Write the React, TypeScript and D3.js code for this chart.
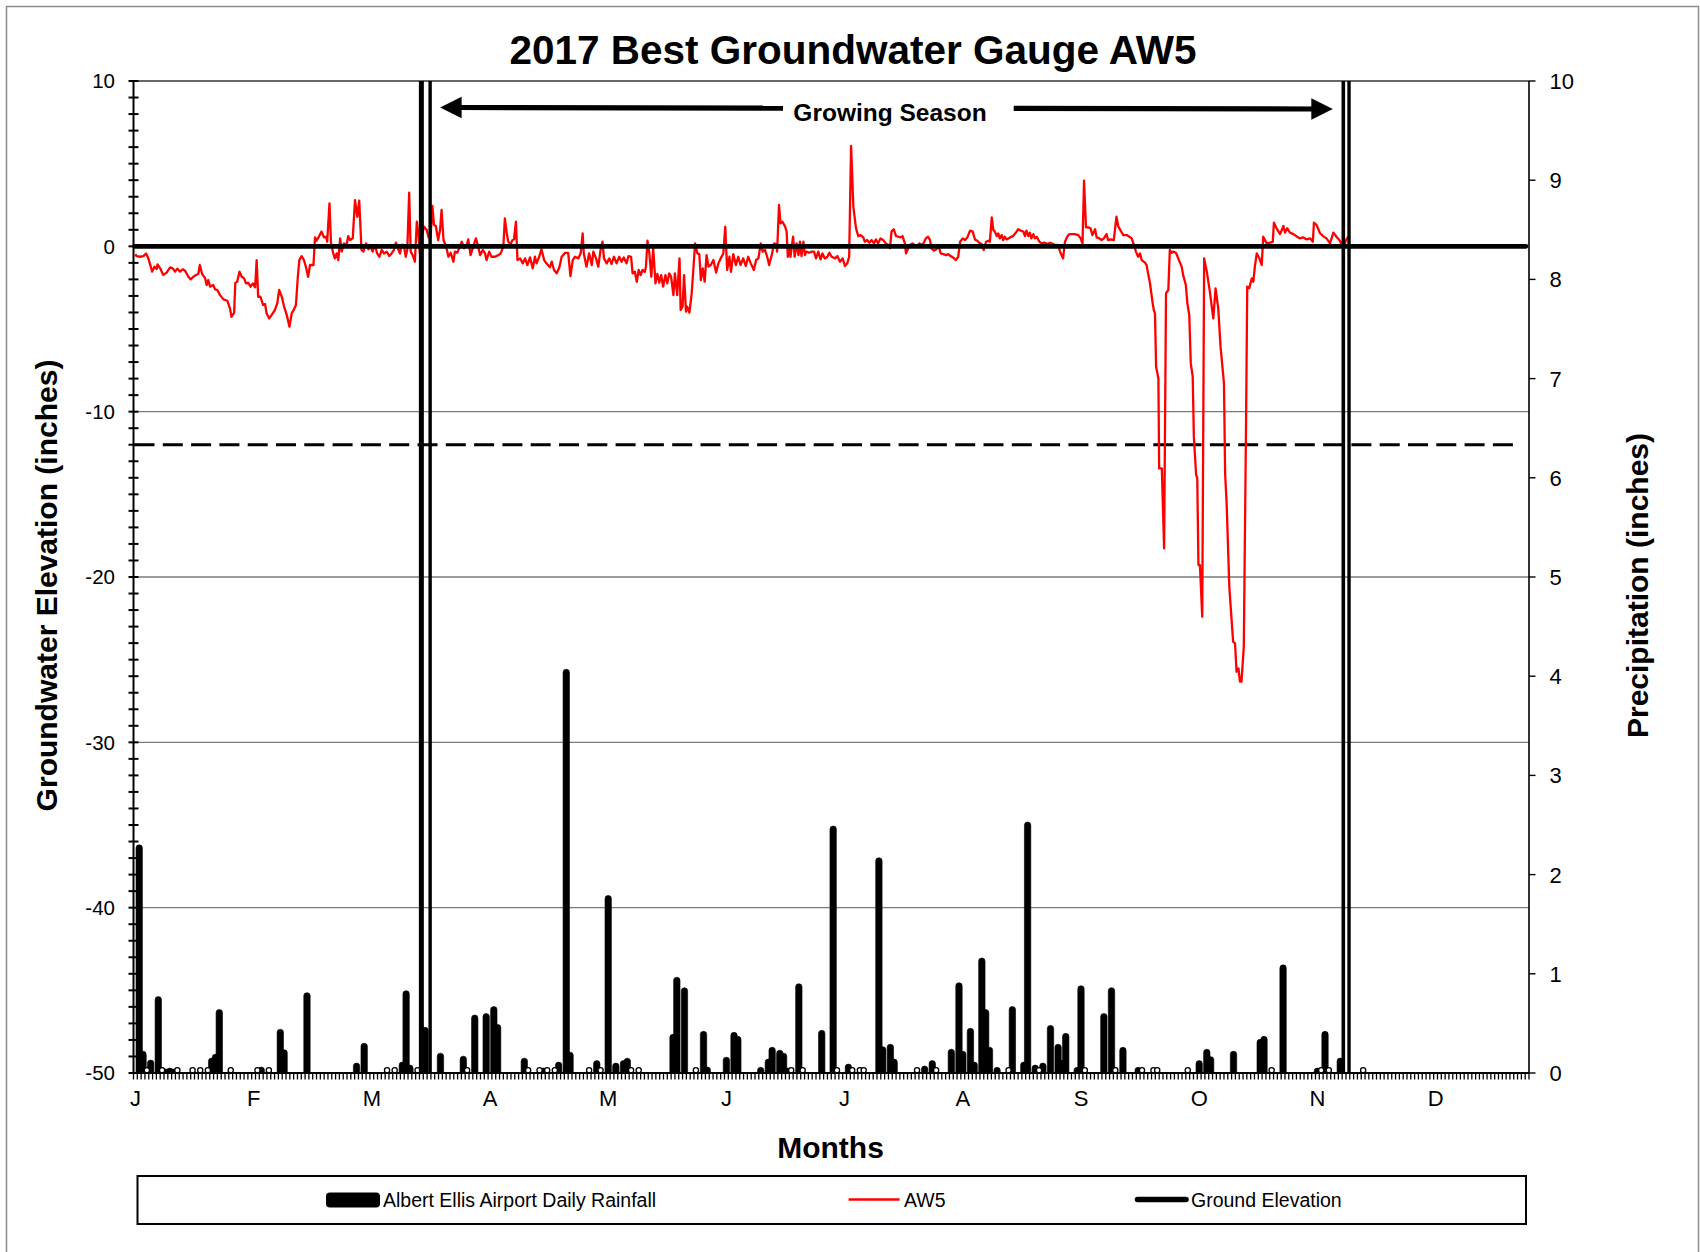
import React from 'react';
import * as d3 from 'd3';

const W = 1700;
const H = 1252;
const PLOT = { left: 133.5, right: 1529, top: 81, bottom: 1073 };
const FONT = "'Liberation Sans', Arial, Helvetica, sans-serif";

const chartTitle = '2017 Best Groundwater Gauge AW5';
const leftAxisTitle = 'Groundwater Elevation (inches)';
const rightAxisTitle = 'Precipitation (inches)';
const xAxisTitle = 'Months';
const seasonLabel = 'Growing Season';

const dayCount = 366;
const monthLabels = ['J', 'F', 'M', 'A', 'M', 'J', 'J', 'A', 'S', 'O', 'N', 'D'];
const monthLabelEvery = 31;
const leftDomain = [-50, 10];
const rightDomain = [0, 10];
const leftTickLabels = [10, 0, -10, -20, -30, -40, -50];
const rightTickLabels = [0, 1, 2, 3, 4, 5, 6, 7, 8, 9, 10];
const gridValues = [-10, -20, -30, -40];
const groundElevation = 0;
const rootZoneDepth = -12;
const seasonStartDays = [75.0, 77.3];
const seasonEndDays = [316.8, 318.3];

const legendItems = ['Albert Ellis Airport Daily Rainfall', 'AW5', 'Ground Elevation'];

// Albert Ellis Airport daily rainfall (day of year index, inches)
const rainDays = [1, 2, 4, 6, 8, 9, 10, 20, 21, 22, 33, 38, 39, 45, 58, 60, 70, 71, 72, 76, 80, 86, 89, 92, 94, 95, 102, 107, 111, 113, 114, 121, 124, 126, 128, 129, 141, 142, 144, 149, 150, 155, 157, 158, 164, 166, 167, 169, 170, 171, 174, 180, 183, 187, 195, 196, 198, 199, 207, 209, 214, 216, 217, 219, 220, 222, 223, 224, 226, 230, 233, 234, 236, 238, 240, 242, 243, 244, 247, 248, 254, 256, 259, 263, 279, 281, 282, 288, 295, 296, 301, 310, 312, 316];
const rainInches = [2.30, 0.22, 0.13, 0.77, 0.04, 0.05, 0.04, 0.15, 0.19, 0.64, 0.06, 0.44, 0.235, 0.81, 0.10, 0.30, 0.11, 0.83, 0.08, 0.46, 0.20, 0.17, 0.585, 0.60, 0.67, 0.49, 0.15, 0.05, 0.11, 4.07, 0.21, 0.125, 1.79, 0.10, 0.125, 0.15, 0.39, 0.965, 0.86, 0.42, 0.06, 0.16, 0.41, 0.37, 0.057, 0.14, 0.26, 0.23, 0.20, 0.05, 0.90, 0.43, 2.49, 0.09, 2.17, 0.265, 0.29, 0.14, 0.07, 0.125, 0.24, 0.91, 0.22, 0.45, 0.11, 1.16, 0.64, 0.26, 0.057, 0.67, 0.11, 2.53, 0.08, 0.10, 0.48, 0.29, 0.13, 0.40, 0.057, 0.88, 0.60, 0.86, 0.26, 0.057, 0.125, 0.24, 0.165, 0.22, 0.34, 0.37, 1.09, 0.05, 0.42, 0.15];
// days with trace rainfall
const traceDays = [3, 7, 11, 15, 17, 19, 25, 32, 35, 66, 68, 74, 87, 103, 106, 108, 110, 119, 122, 130, 132, 147, 172, 175, 184, 188, 190, 191, 205, 210, 229, 237, 249, 257, 264, 267, 268, 276, 298, 311, 313, 322];

// AW5 groundwater elevation readings (day of year, inches relative to ground)
const aw5Readings: [number, number][] = [
  [0, -0.47], [0.3, -0.59], [1.2, -0.63], [2.1, -0.59], [2.8, -0.43], [3.4, -0.73], [4.4, -1.53], [5.0, -1.23], [5.6, -1.37], [5.8, -1.09],
  [6.5, -1.33], [7.3, -1.73], [8.2, -1.59], [9.1, -1.27], [9.8, -1.33], [10.4, -1.53], [11.0, -1.35], [11.7, -1.53], [12.4, -1.39], [13.0, -1.47],
  [13.9, -1.84], [14.5, -2.0], [15.2, -1.84], [15.9, -1.73], [16.5, -1.67], [16.9, -1.13], [17.5, -1.67], [18.3, -1.94], [18.7, -2.34], [19.1, -2.04],
  [19.6, -2.44], [20.4, -2.34], [20.9, -2.6], [21.5, -2.64], [22.2, -2.95], [23.1, -3.21], [24.1, -3.29], [24.8, -3.75], [25.2, -4.26], [25.9, -4.01],
  [26.2, -2.2], [26.7, -2.14], [27.3, -1.53], [27.9, -1.84], [28.5, -1.94], [29.0, -2.24], [29.6, -2.2], [30.2, -2.44], [30.8, -2.24], [31.4, -2.48],
  [31.8, -0.83], [32.2, -3.05], [32.8, -3.05], [33.5, -3.55], [34.0, -3.49], [34.4, -4.05], [35.1, -4.36], [35.7, -4.16], [36.6, -3.85], [37.2, -3.45],
  [37.7, -2.64], [38.4, -3.05], [39.0, -3.65], [39.7, -4.16], [40.4, -4.86], [41.0, -4.05], [41.6, -3.81], [42.1, -3.55], [42.6, -1.84], [43.0, -0.83],
  [43.6, -0.59], [44.2, -0.83], [44.7, -1.23], [45.3, -1.84], [45.8, -1.13], [46.7, -1.13], [47.1, 0.54], [47.5, 0.34], [48.2, 0.62], [48.8, 0.89],
  [49.5, 0.54], [50.0, 0.58], [50.3, 0.28], [50.9, 2.6], [51.3, 0.18], [51.9, -0.43], [52.3, -0.73], [52.8, -0.43], [53.2, -0.83], [53.7, 0.48],
  [54.1, -0.32], [54.7, 0.18], [55.4, 0.08], [55.8, 0.62], [56.3, 0.38], [57.0, 0.48], [57.6, 2.8], [58.2, 1.79], [58.7, 2.76], [59.3, -0.22],
  [59.8, -0.32], [60.5, 0.18], [61.1, -0.18], [61.7, -0.02], [62.2, -0.32], [62.8, 0.08], [63.4, -0.43], [64.0, -0.63], [64.6, -0.22], [65.2, -0.43],
  [65.9, -0.32], [66.6, -0.59], [67.2, -0.43], [67.8, -0.22], [68.3, 0.22], [69.0, -0.22], [69.4, -0.43], [69.8, 0.08], [70.4, 0.08], [70.9, -0.63],
  [71.3, -0.22], [71.8, 3.24], [72.2, -0.32], [72.7, -0.53], [73.3, -0.93], [73.8, 1.49], [74.2, 0.78], [74.6, -0.43], [75.1, 0.68], [75.7, 1.19],
  [76.4, 0.99], [76.9, 0.54], [77.4, 0.54], [77.9, 2.44], [78.3, 1.29], [78.8, 1.23], [79.4, 0.38], [79.9, 0.99], [80.3, 2.2], [80.8, 0.38],
  [81.5, -0.02], [82.1, -0.63], [82.7, -0.39], [83.4, -0.93], [83.8, -0.32], [84.4, -0.39], [85.1, -0.02], [85.6, 0.28], [86.2, -0.12], [86.9, 0.08],
  [87.3, 0.42], [87.9, -0.53], [88.6, -0.02], [89.3, 0.48], [89.9, -0.02], [90.4, -0.53], [91.1, -0.22], [91.7, -0.43], [92.1, -0.83], [92.8, -0.32],
  [93.4, -0.63], [94.3, -0.63], [95.2, -0.53], [95.8, -0.43], [96.5, -0.02], [96.9, 1.69], [97.4, 0.78], [97.8, 0.28], [98.4, 0.14], [98.9, 0.38],
  [99.3, 0.42], [99.8, 1.49], [100.2, -0.83], [100.9, -0.73], [101.6, -1.03], [102.2, -0.73], [102.8, -1.13], [103.5, -0.67], [104.2, -1.33], [104.8, -0.63],
  [105.2, -1.03], [105.9, -0.63], [106.5, -0.18], [107.2, -0.83], [107.8, -1.03], [108.7, -1.27], [109.2, -0.93], [109.8, -1.43], [110.5, -1.63], [111.2, -1.27],
  [111.8, -0.63], [112.7, -0.39], [113.5, -0.39], [114.1, -1.8], [114.7, -0.83], [115.3, -0.63], [116.2, -0.73], [116.8, -0.39], [117.3, 0.78], [117.6, -0.43],
  [118.3, -1.23], [119.0, -0.43], [119.7, -1.13], [120.1, -0.32], [120.8, -0.73], [121.4, -1.23], [122.0, -0.22], [122.5, 0.28], [122.9, -0.73], [123.6, -1.03],
  [124.3, -0.73], [124.9, -1.07], [125.5, -0.63], [126.2, -1.03], [126.9, -0.63], [127.5, -0.93], [128.1, -0.67], [128.8, -1.03], [129.3, -0.59], [130.0, -0.63],
  [130.4, -1.64], [131.0, -1.54], [131.5, -2.14], [132.0, -1.43], [132.5, -1.74], [133.0, -1.43], [133.6, -1.54], [133.9, -1.23], [134.3, 0.34], [134.8, -0.43],
  [135.3, -1.84], [135.8, -0.12], [136.4, -2.24], [136.9, -1.67], [137.4, -2.2], [137.9, -1.74], [138.4, -2.44], [139.0, -1.74], [139.5, -2.24], [140.0, -1.64],
  [140.5, -1.84], [141.1, -2.95], [141.5, -1.64], [142.1, -2.95], [142.7, -0.73], [143.0, -3.85], [143.5, -3.65], [143.9, -1.74], [144.4, -3.95], [144.7, -3.65],
  [145.3, -4.01], [145.9, -2.84], [146.8, 0.18], [147.4, -0.43], [147.9, -0.47], [148.3, -2.04], [148.8, -1.33], [149.3, -2.14], [149.8, -0.53], [150.3, -1.23],
  [150.9, -1.13], [151.6, -0.83], [152.3, -1.59], [152.9, -1.03], [153.5, -0.73], [154.2, -0.43], [154.7, 1.19], [155.2, -1.43], [155.8, -0.63], [156.2, -1.54],
  [156.8, -0.47], [157.5, -1.13], [158.1, -0.63], [158.7, -1.13], [159.4, -0.73], [160.1, -1.19], [160.7, -0.63], [161.4, -1.03], [162.2, -1.43], [162.8, -0.83],
  [163.4, -0.73], [164.0, 0.18], [164.5, -0.32], [165.1, -0.22], [165.7, -0.63], [166.2, -1.13], [166.9, -0.53], [167.5, 0.18], [168.0, 0.14], [168.3, -0.32],
  [168.8, 2.5], [169.2, 1.39], [169.7, 1.49], [170.4, 1.19], [170.8, 0.89], [171.1, -0.63], [171.5, 0.08], [171.8, -0.63], [172.2, 0.08], [172.5, 0.58],
  [172.9, -0.63], [173.4, 0.18], [173.9, -0.53], [174.3, 0.28], [174.7, -0.59], [175.2, 0.28], [175.6, -0.53], [176.0, -0.32], [176.7, -0.39], [177.4, -0.32],
  [178.0, -0.32], [178.5, -0.73], [179.1, -0.32], [179.7, -0.79], [180.2, -0.43], [180.8, -0.73], [181.5, -0.63], [182.0, -0.39], [182.6, -0.63], [183.5, -0.73],
  [184.1, -0.59], [184.8, -0.93], [185.5, -0.73], [186.1, -1.19], [186.7, -1.03], [187.2, -0.63], [187.7, 6.07], [188.3, 2.4], [189.0, 1.09], [189.6, 0.62],
  [190.2, 0.68], [190.9, 0.54], [191.3, 0.28], [191.9, 0.38], [192.5, 0.22], [193.1, 0.38], [193.7, 0.18], [194.2, 0.42], [194.8, 0.18], [195.4, 0.48],
  [196.1, 0.38], [196.8, 0.18], [197.5, 0.08], [197.9, -0.12], [198.3, 0.89], [198.9, 1.03], [199.5, 0.62], [200.1, 0.58], [200.7, 0.54], [201.2, 0.62],
  [201.8, 0.18], [202.1, -0.43], [202.7, -0.12], [203.1, 0.08], [203.8, 0.18], [204.4, 0.08], [205.1, -0.02], [205.6, 0.18], [206.2, 0.08], [206.8, 0.22],
  [207.3, 0.48], [207.9, 0.58], [208.4, 0.38], [208.8, -0.12], [209.4, -0.26], [210.1, -0.18], [210.6, 0.08], [211.2, -0.43], [211.9, -0.47], [212.6, -0.53],
  [213.2, -0.47], [213.8, -0.59], [214.5, -0.69], [215.2, -0.83], [215.8, -0.63], [216.3, 0.28], [217.0, 0.48], [217.6, 0.38], [218.2, 0.54], [218.9, 0.95],
  [219.6, 0.89], [220.2, 0.42], [220.8, 0.34], [221.3, 0.22], [221.9, 0.14], [222.5, -0.22], [223.1, 0.28], [223.7, 0.34], [224.1, 0.28], [224.6, 1.75],
  [225.0, 0.99], [225.4, 0.89], [225.9, 0.62], [226.3, 0.78], [226.7, 0.48], [227.2, 0.68], [227.6, 0.38], [228.0, 0.58], [228.5, 0.42], [229.4, 0.54],
  [230.2, 0.62], [230.9, 0.82], [231.5, 1.03], [232.2, 0.95], [232.9, 0.89], [233.3, 0.62], [233.7, 0.95], [234.2, 0.62], [234.6, 0.82], [235.0, 0.48],
  [235.5, 0.74], [235.9, 0.48], [236.4, 0.58], [237.1, 0.28], [237.7, 0.18], [238.5, 0.22], [239.1, 0.14], [239.9, 0.22], [240.7, 0.14], [241.4, 0.08],
  [242.0, 0.08], [242.5, -0.32], [243.3, -0.73], [243.8, 0.28], [244.4, 0.58], [244.9, 0.74], [245.5, 0.74], [246.4, 0.74], [247.3, 0.68], [247.9, 0.48],
  [248.4, 0.18], [248.8, 3.97], [249.3, 1.15], [249.9, 1.15], [250.5, 1.09], [251.0, 0.68], [251.7, 1.03], [252.1, 0.54], [252.8, 0.48], [253.4, 0.38],
  [254.0, 0.48], [254.7, 0.74], [255.1, 0.38], [255.8, 0.42], [256.6, 0.38], [257.3, 1.79], [257.8, 1.19], [258.4, 0.95], [259.1, 0.68], [260.0, 0.68],
  [260.7, 0.58], [261.3, 0.48], [261.9, 0.08], [262.4, -0.32], [263.0, -0.63], [263.5, -0.43], [263.9, -0.83], [264.8, -0.99], [265.2, -1.13], [265.6, -1.64],
  [266.1, -2.24], [266.8, -3.45], [267.1, -3.85], [267.4, -4.05], [267.7, -7.28], [268.3, -7.98], [268.5, -13.43], [269.2, -13.43], [269.8, -18.27], [270.3, -2.84],
  [270.9, -2.64], [271.3, -0.22], [271.8, -0.39], [272.2, -0.32], [272.9, -0.39], [273.5, -0.73], [274.4, -1.23], [274.8, -1.74], [275.5, -2.34], [275.9, -3.45],
  [276.4, -4.15], [276.8, -7.08], [277.3, -7.89], [277.6, -11.51], [278.2, -13.83], [278.5, -14.03], [278.8, -19.28], [279.2, -19.28], [279.8, -22.4], [280.3, -0.73],
  [281.0, -1.53], [281.8, -2.74], [282.3, -3.65], [282.7, -4.36], [283.3, -2.54], [284.0, -3.75], [284.6, -6.07], [285.5, -8.29], [285.8, -13.73], [286.2, -15.55],
  [286.9, -20.59], [287.2, -21.6], [287.9, -23.91], [288.4, -24.01], [288.8, -25.73], [289.3, -25.53], [289.7, -26.33], [290.1, -26.33], [290.7, -24.21], [291.3, -10.5],
  [291.6, -2.44], [292.1, -2.54], [292.8, -1.94], [293.2, -2.14], [293.6, -1.23], [294.1, -0.43], [294.8, -0.73], [295.4, -1.13], [295.8, 0.58], [296.7, 0.18],
  [297.6, 0.22], [298.3, 0.28], [298.6, 1.43], [299.3, 1.09], [300.2, 0.74], [301.1, 1.23], [301.5, 0.83], [302.1, 1.09], [302.8, 0.83], [303.7, 0.74],
  [304.7, 0.58], [305.4, 0.48], [306.3, 0.54], [307.2, 0.42], [308.1, 0.48], [308.8, 0.28], [309.1, 1.43], [309.8, 1.29], [310.7, 0.79], [311.5, 0.62],
  [312.4, 0.48], [313.3, 0.18], [314.2, 0.83], [315.0, 0.58], [315.9, 0.34], [316.8, -0.12], [317.5, 0.38], [318.1, 0.58],
];

export default function App() {
  const x = d3.scaleLinear().domain([0, dayCount]).range([PLOT.left, PLOT.right]);
  const cx = (d: number) => x(d + 0.5);
  const yL = d3.scaleLinear().domain(leftDomain).range([PLOT.bottom, PLOT.top]);
  const yR = d3.scaleLinear().domain(rightDomain).range([PLOT.bottom, PLOT.top]);

  const aw5Line = d3
    .line<[number, number]>()
    .x((d) => cx(d[0]))
    .y((d) => yL(d[1]))(aw5Readings) as string;

  const base = yR(0);
  const barHalf = 3.2;
  const barPath = (day: number, v: number) => {
    const xc = cx(day);
    const top = yR(v);
    const h = base - top;
    const r = Math.min(barHalf, h);
    return `M${xc - barHalf},${base}L${xc - barHalf},${top + r}A${barHalf},${r} 0 0 1 ${xc + barHalf},${top + r}L${xc + barHalf},${base}Z`;
  };

  const leftMinor = d3.range(leftDomain[0], leftDomain[1] + 1, 1);
  const dayTicks = d3.range(0, dayCount + 1, 1);
  const gY = yL(groundElevation);

  const arrowY1 = 107.5;
  const arrowY2 = 109;
  const leftTip = cx(seasonStartDays[1]) + 10;
  const rightTip = cx(seasonEndDays[0]) - 10.5;
  const labelX = 890;

  return (
    <svg
      width={W}
      height={H}
      viewBox={`0 0 ${W} ${H}`}
      style={{ position: 'absolute', left: 0, top: 0, background: '#fff' }}
      fontFamily={FONT}
    >
      <rect x={0} y={0} width={W} height={H} fill="#fff" />
      <rect x={6.5} y={6.5} width={W - 8} height={H} fill="none" stroke="#8c8c8c" strokeWidth={1.5} />

      {/* title */}
      <text x={853} y={63.5} textAnchor="middle" fontSize={40.5} fontWeight="bold">
        {chartTitle}
      </text>

      {/* top line and gridlines */}
      <line x1={PLOT.left} x2={PLOT.right} y1={yL(leftDomain[1])} y2={yL(leftDomain[1])} stroke="#333" strokeWidth={1.5} />
      {gridValues.map((g) => (
        <line key={g} x1={PLOT.left} x2={PLOT.right} y1={yL(g)} y2={yL(g)} stroke="#7a7a7a" strokeWidth={1.4} />
      ))}

      {/* root zone dashed line */}
      <line
        x1={PLOT.left}
        x2={PLOT.right - 8}
        y1={yL(rootZoneDepth)}
        y2={yL(rootZoneDepth)}
        stroke="#000"
        strokeWidth={3}
        strokeDasharray="20 8.3"
        strokeDashoffset={-1}
      />

      {/* rainfall bars */}
      {rainDays.map((d, i) => (
        <path key={`r${d}`} d={barPath(d, rainInches[i])} fill="#000" stroke="#000" strokeWidth={0.6} />
      ))}
      {traceDays.map((d) => (
        <ellipse key={`t${d}`} cx={cx(d)} cy={base - 2.7} rx={2.6} ry={2.6} fill="#fff" stroke="#000" strokeWidth={1.3} />
      ))}

      {/* AW5 */}
      <path d={aw5Line} fill="none" stroke="#ff0000" strokeWidth={2.3} strokeLinejoin="round" />

      {/* ground elevation */}
      <line x1={PLOT.left + 1} x2={PLOT.right - 3} y1={gY} y2={gY} stroke="#000" strokeWidth={4.6} strokeLinecap="round" />

      {/* growing season markers */}
      <line x1={cx(seasonStartDays[0])} x2={cx(seasonStartDays[0])} y1={PLOT.top} y2={PLOT.bottom} stroke="#000" strokeWidth={5} />
      <line x1={cx(seasonStartDays[1])} x2={cx(seasonStartDays[1])} y1={PLOT.top} y2={PLOT.bottom} stroke="#000" strokeWidth={3.4} />
      <line x1={cx(seasonEndDays[0])} x2={cx(seasonEndDays[0])} y1={PLOT.top} y2={PLOT.bottom} stroke="#000" strokeWidth={3.6} />
      <line x1={cx(seasonEndDays[1])} x2={cx(seasonEndDays[1])} y1={PLOT.top} y2={PLOT.bottom} stroke="#000" strokeWidth={3.4} />

      {/* left axis */}
      <line x1={PLOT.left} x2={PLOT.left} y1={PLOT.top} y2={PLOT.bottom} stroke="#000" strokeWidth={2} />
      {leftMinor.map((v) => (
        <line key={`lt${v}`} x1={PLOT.left - 5} x2={PLOT.left + 5} y1={yL(v)} y2={yL(v)} stroke="#000" strokeWidth={2} />
      ))}
      {leftTickLabels.map((v) => (
        <text key={`ll${v}`} x={115} y={yL(v) + 7.3} textAnchor="end" fontSize={20.5}>
          {v}
        </text>
      ))}

      {/* right axis */}
      <line x1={PLOT.right} x2={PLOT.right} y1={PLOT.top} y2={PLOT.bottom} stroke="#000" strokeWidth={1.6} />
      {rightTickLabels.map((v) => (
        <g key={`rt${v}`}>
          <line x1={PLOT.right} x2={PLOT.right + 6.5} y1={yR(v)} y2={yR(v)} stroke="#000" strokeWidth={1.4} />
          <text x={1549.5} y={yR(v) + 7.9} fontSize={22}>
            {v}
          </text>
        </g>
      ))}

      {/* x axis */}
      {dayTicks.map((d) => (
        <line key={`dt${d}`} x1={x(d)} x2={x(d)} y1={PLOT.bottom} y2={PLOT.bottom + 6.5} stroke="#000" strokeWidth={1.3} />
      ))}
      <line x1={PLOT.left} x2={PLOT.right} y1={PLOT.bottom} y2={PLOT.bottom} stroke="#000" strokeWidth={2} />
      {monthLabels.map((m, i) => (
        <text key={`m${i}`} x={cx(i * monthLabelEvery)} y={1106} textAnchor="middle" fontSize={22}>
          {m}
        </text>
      ))}

      {/* axis titles */}
      <text
        transform={`translate(57,585.5) rotate(-90)`}
        textAnchor="middle"
        fontSize={30}
        fontWeight="bold"
      >
        {leftAxisTitle}
      </text>
      <text
        transform={`translate(1648,585.5) rotate(-90)`}
        textAnchor="middle"
        fontSize={30}
        fontWeight="bold"
      >
        {rightAxisTitle}
      </text>
      <text x={830.5} y={1158} textAnchor="middle" fontSize={30} fontWeight="bold">
        {xAxisTitle}
      </text>

      {/* growing season arrows */}
      <line x1={leftTip + 18} x2={783} y1={arrowY1} y2={arrowY1 + 0.6} stroke="#000" strokeWidth={5.2} />
      <path d={`M${leftTip},${arrowY1}L${leftTip + 21.5},${arrowY1 - 10.8}L${leftTip + 21.5},${arrowY1 + 10.8}Z`} fill="#000" />
      <line x1={1013.7} x2={rightTip - 18} y1={arrowY2 - 0.6} y2={arrowY2} stroke="#000" strokeWidth={5.2} />
      <path d={`M${rightTip},${arrowY2}L${rightTip - 21.5},${arrowY2 - 10.8}L${rightTip - 21.5},${arrowY2 + 10.8}Z`} fill="#000" />
      <text x={labelX} y={120.5} textAnchor="middle" fontSize={24.5} fontWeight="bold">
        {seasonLabel}
      </text>

      {/* legend */}
      <rect x={137.5} y={1176} width={1388.5} height={48} fill="#fff" stroke="#000" strokeWidth={2} />
      <rect x={326} y={1192.5} width={54} height={15} rx={4} fill="#000" />
      <text x={383} y={1206.7} fontSize={19.5}>
        {legendItems[0]}
      </text>
      <line x1={848.6} x2={899.6} y1={1199.5} y2={1199.5} stroke="#ff0000" strokeWidth={2.3} />
      <text x={904} y={1206.7} fontSize={19.5}>
        {legendItems[1]}
      </text>
      <line x1={1137.5} x2={1186} y1={1199.5} y2={1199.5} stroke="#000" strokeWidth={5.5} strokeLinecap="round" />
      <text x={1191} y={1206.7} fontSize={19.5}>
        {legendItems[2]}
      </text>
    </svg>
  );
}
